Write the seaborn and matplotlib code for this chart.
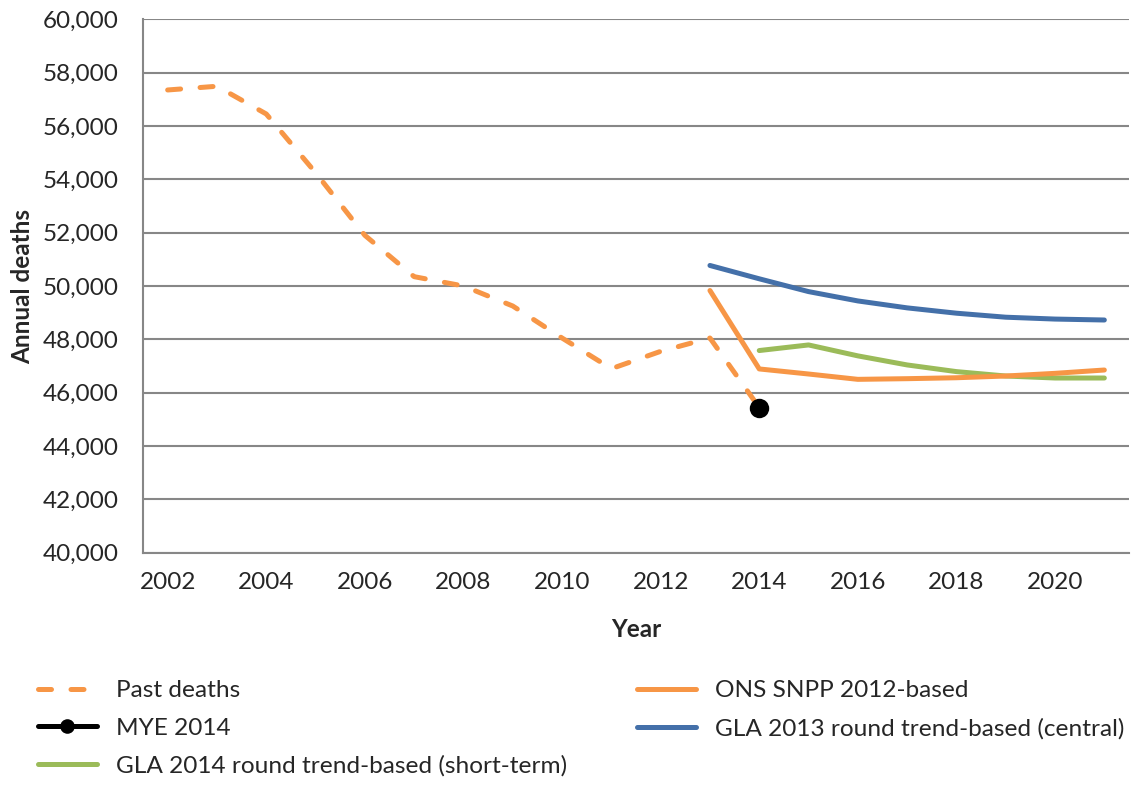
import matplotlib
matplotlib.use("Agg")
import matplotlib.pyplot as plt
from matplotlib.ticker import FuncFormatter, MultipleLocator
import pandas as pd
import seaborn as sns

# values
past_years = list(range(2002, 2015))
past_deaths = [57350, 57490, 56450, 54250, 51900, 50350, 50000, 49250,
               48050, 46900, 47550, 48050, 45440]

mye_years = [2014]
mye_deaths = [45440]

proj_years = list(range(2013, 2022))
ons_snpp = [49830, 46890, 46700, 46500, 46525, 46560, 46625, 46725, 46850]
gla_2013 = [50770, 50270, 49790, 49440, 49180, 48980, 48830, 48760, 48725]

gla14_years = list(range(2014, 2022))
gla_2014 = [47580, 47790, 47380, 47040, 46790, 46625, 46550, 46550]

year_labels = list(range(2002, 2021, 2))

ORANGE = "#F79646"
BLUE = "#4470A9"
GREEN = "#9BBB59"
GRID = "#878787"

sns.set_style("white")
plt.rcParams["font.family"] = ["Lato", "DejaVu Sans"]

fig = plt.figure(figsize=(11.34, 7.85), dpi=100)
ax = fig.add_axes([143 / 1134, 1 - 552.7 / 785, 986 / 1134, 533.4 / 785])

lw = 3.6
sns.lineplot(x=past_years, y=past_deaths, ax=ax, color=ORANGE, lw=lw,
             linestyle=(0, (2.6, 3.9)), dash_capstyle="round",
             label="Past deaths")
sns.lineplot(x=mye_years, y=mye_deaths, ax=ax, color="black", lw=lw,
             marker="o", markersize=14, markeredgewidth=0,
             label="MYE 2014")
sns.lineplot(x=gla14_years, y=gla_2014, ax=ax, color=GREEN, lw=lw,
             solid_capstyle="round", label="GLA 2014 round trend-based (short-term)")
sns.lineplot(x=proj_years, y=ons_snpp, ax=ax, color=ORANGE, lw=lw,
             solid_capstyle="round", label="ONS SNPP 2012-based")
sns.lineplot(x=proj_years, y=gla_2013, ax=ax, color=BLUE, lw=lw,
             solid_capstyle="round", label="GLA 2013 round trend-based (central)")

ax.set_xlim(2001.5, 2021.5)
ax.set_ylim(40000, 60000)
ax.yaxis.set_major_locator(MultipleLocator(2000))
ax.yaxis.set_major_formatter(FuncFormatter(lambda v, p: f"{int(v):,}"))
ax.set_xticks(year_labels)
ax.set_xticks([y + 0.5 for y in range(2001, 2022)], minor=True)
ax.tick_params(axis="x", which="major", length=0, pad=14, labelsize=17.5)
ax.tick_params(axis="x", which="minor", length=7, width=1.5, color=GRID,
               direction="out")
ax.tick_params(axis="y", length=6.5, width=1.5, color=GRID, direction="out",
               pad=11, labelsize=17.5)
ax.grid(axis="y", color=GRID, lw=1.5)
ax.set_axisbelow(True)
for side in ["top", "right"]:
    ax.spines[side].set_visible(False)
for side in ["left", "bottom"]:
    ax.spines[side].set_color(GRID)
    ax.spines[side].set_linewidth(1.5)

ax.set_xlabel("Year", fontsize=17.5, fontweight="bold", labelpad=18)
ax.set_ylabel("Annual deaths", fontsize=17.5, fontweight="bold", labelpad=6)

handles, labels = ax.get_legend_handles_labels()
ax.get_legend().remove()
leg_kw = dict(loc="upper left", frameon=False, fontsize=17.6,
              handlelength=2.4, handletextpad=0.78, labelspacing=0.68,
              markerscale=0.75, borderaxespad=0, borderpad=0)
fig.legend(handles[:3], labels[:3],
           bbox_to_anchor=(38 / 1134, 1 - 680 / 785), **leg_kw)
fig.legend(handles[3:], labels[3:],
           bbox_to_anchor=(637 / 1134, 1 - 680 / 785), **leg_kw)

fig.savefig("out.png", dpi=100)
